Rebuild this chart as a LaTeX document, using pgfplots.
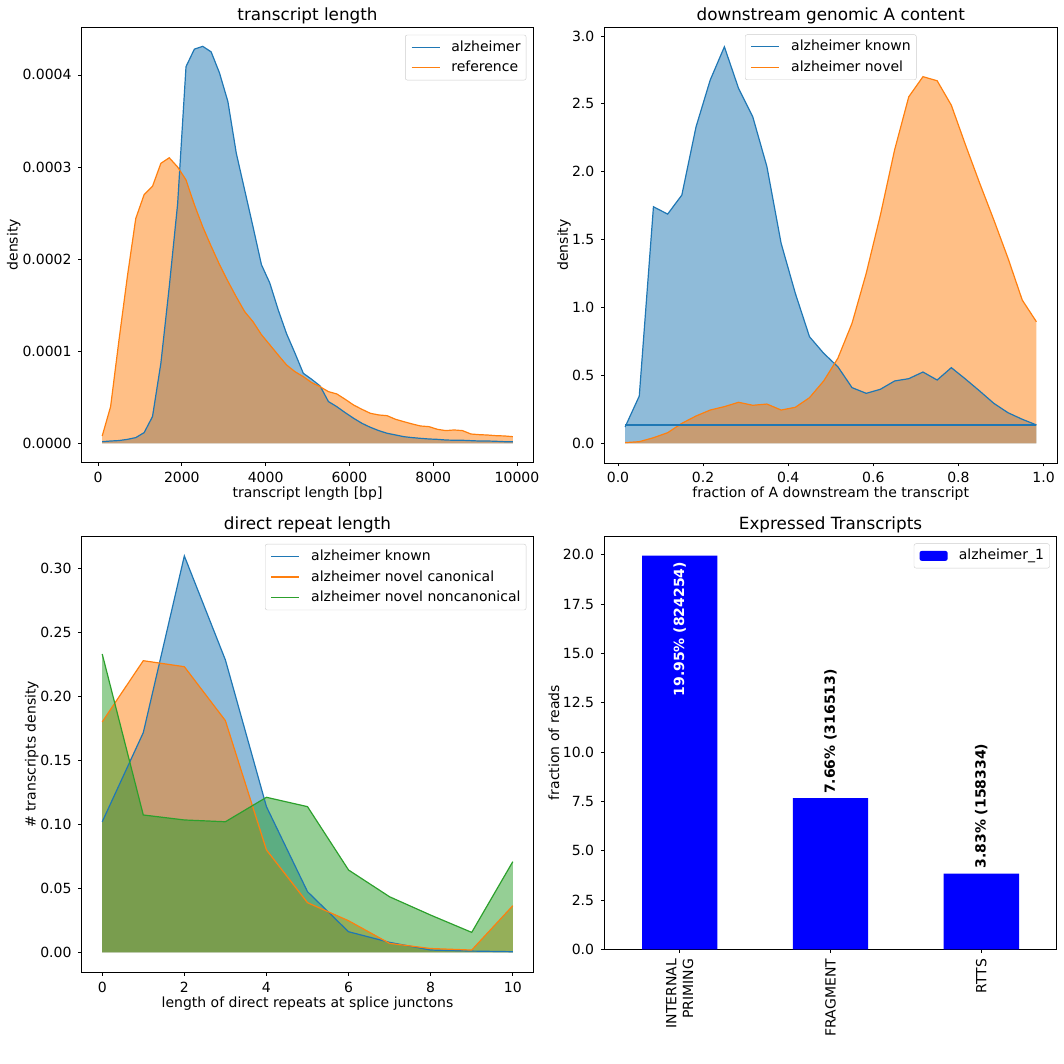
\documentclass[border=0pt]{standalone}
\usepackage{fontspec}
\setmainfont{DejaVu Sans}
\usepackage{pgfplots}
\usepackage{pgfplotstable}
\pgfplotsset{compat=1.18}
\definecolor{c0}{HTML}{1F77B4}
\definecolor{c1}{HTML}{FF7F0E}
\definecolor{c2}{HTML}{2CA02C}

\pgfplotstableread{
x a r
100 1.8e-6 8e-6
300 2.5e-6 3.98e-5
500 3.0e-6 1.12e-4
700 4.3e-6 1.81e-4
900 6.2e-6 2.44e-4
1100 1.16e-5 2.70e-4
1300 2.9e-5 2.79e-4
1500 8.7e-5 3.04e-4
1700 1.70e-4 3.10e-4
1900 2.60e-4 3.00e-4
2100 4.09e-4 2.86e-4
2300 4.28e-4 2.59e-4
2500 4.31e-4 2.35e-4
2700 4.25e-4 2.14e-4
2900 4.02e-4 1.94e-4
3100 3.71e-4 1.76e-4
3300 3.15e-4 1.59e-4
3500 2.75e-4 1.43e-4
3700 2.35e-4 1.32e-4
3900 1.94e-4 1.18e-4
4100 1.74e-4 1.07e-4
4300 1.45e-4 9.59e-5
4500 1.19e-4 8.51e-5
4700 9.8e-5 7.78e-5
4900 7.6e-5 7.24e-5
5100 6.95e-5 6.59e-5
5300 6.23e-5 6.15e-5
5500 4.53e-5 5.61e-5
5700 3.98e-5 5.36e-5
5900 3.33e-5 4.78e-5
6100 2.72e-5 4.16e-5
6300 2.17e-5 3.69e-5
6500 1.74e-5 3.26e-5
6700 1.38e-5 3.08e-5
6900 1.09e-5 3.00e-5
7100 9.1e-6 2.61e-5
7300 7.2e-6 2.35e-5
7500 6.2e-6 2.10e-5
7700 5.4e-6 1.88e-5
7900 4.7e-6 1.81e-5
8100 4.3e-6 1.52e-5
8300 3.6e-6 1.38e-5
8500 3.3e-6 1.45e-5
8700 3.3e-6 1.38e-5
8900 2.9e-6 1.01e-5
9100 2.5e-6 9.4e-6
9300 2.5e-6 9.0e-6
9500 2.2e-6 8.3e-6
9700 1.8e-6 8.0e-6
9900 1.8e-6 7.2e-6
}\tldata

\pgfplotstableread{
x k n
0.016667 0.120 0.005
0.050000 0.348 0.012
0.083333 1.742 0.041
0.116667 1.688 0.078
0.150000 1.828 0.147
0.183333 2.330 0.201
0.216667 2.675 0.245
0.250000 2.920 0.270
0.283333 2.614 0.302
0.316667 2.405 0.280
0.350000 2.037 0.289
0.383333 1.473 0.245
0.416667 1.105 0.265
0.450000 0.785 0.336
0.483333 0.663 0.459
0.516667 0.564 0.626
0.550000 0.410 0.884
0.583333 0.368 1.252
0.616667 0.398 1.681
0.650000 0.459 2.160
0.683333 0.476 2.552
0.716667 0.525 2.700
0.750000 0.466 2.670
0.783333 0.557 2.490
0.816667 0.473 2.197
0.850000 0.385 1.915
0.883333 0.294 1.644
0.916667 0.225 1.362
0.950000 0.177 1.055
0.983333 0.135 0.895
}\trdata

\pgfplotstableread{
x k c nc
0 0.1020 0.1800 0.2330
1 0.1716 0.2278 0.1073
2 0.3096 0.2231 0.1034
3 0.2284 0.1810 0.1020
4 0.1138 0.0800 0.1211
5 0.0474 0.0388 0.1138
6 0.0161 0.0247 0.0643
7 0.0078 0.0070 0.0434
8 0.0018 0.0030 0.0291
9 0.0010 0.0018 0.0156
10 0.0005 0.0364 0.0708
}\bldata

\pgfplotsset{
  mplaxis/.style={
    scale only axis, anchor=south west,
    axis line style={line width=0.8pt, black},
    tick align=outside, tick pos=left,
    major tick length=3.5pt,
    tick style={line width=0.8pt, black},
    /pgf/number format/assume math mode=true,
    tick label style={font=\fontsize{14}{16.8}\selectfont, inner sep=0pt},
    xticklabel shift=5.9pt, yticklabel shift=6.5pt,
    label style={font=\fontsize{14}{16.8}\selectfont},
    title style={font=\fontsize{16.8}{20}\selectfont, at={(0.5,1)}, anchor=base, yshift=0.5pt},
    scaled ticks=false,
    legend cell align=left,
    legend style={font=\fontsize{14}{16.8}\selectfont, draw=black!20, rounded corners=2pt,
      fill=white, inner xsep=5.6pt, inner ysep=5.2pt, row sep=6.7pt,
      nodes={inner sep=0pt, text height=11pt, text depth=3pt},
      /tikz/every odd column/.style={column sep=11.2pt}},
    legend image code/.code={\draw[#1] (0pt,0pt) -- (28pt,0pt);},
  }
}

\begin{document}
\begin{tikzpicture}
\path[use as bounding box] (0pt,0pt) rectangle (1064pt,1064pt);

% top left
\begin{axis}[mplaxis, at={(81.7pt,601.7pt)}, width=451.6pt, height=435pt,
  xmin=-390, xmax=10390, ymin=-0.0000206, ymax=0.0004517,
  xtick={0,2000,4000,6000,8000,10000},
  ytick={0,0.0001,0.0002,0.0003,0.0004},
  xticklabel style={/pgf/number format/1000 sep={}},
  yticklabel style={/pgf/number format/fixed, /pgf/number format/precision=4, /pgf/number format/fixed zerofill},
  title={transcript length}, xlabel={transcript length [bp]}, ylabel={density},
  xlabel style={at={(axis description cs:0.5,-0.0805)}, anchor=base},
  ylabel style={at={(axis description cs:-0.1506,0.5)}, anchor=center},
  legend style={at={(1,1)}, anchor=north east, xshift=-7pt, yshift=-7.5pt}]
\addplot[fill=c0, fill opacity=0.5, draw=none, forget plot] table[x=x,y=a] {\tldata} \closedcycle;
\addplot[fill=c1, fill opacity=0.5, draw=none, forget plot] table[x=x,y=r] {\tldata} \closedcycle;
\addplot[draw=c0, line width=1.2pt] table[x=x,y=a] {\tldata};
\addplot[draw=c1, line width=1.2pt] table[x=x,y=r] {\tldata};
\legend{alzheimer, reference}
\end{axis}

% top right
\begin{axis}[mplaxis, at={(604.5pt,601pt)}, width=452.5pt, height=436pt,
  xmin=-0.0317, xmax=1.0317, ymin=-0.145, ymax=3.066,
  xtick={0,0.2,0.4,0.6,0.8,1.0},
  ytick={0,0.5,1.0,1.5,2.0,2.5,3.0},
  xticklabel style={/pgf/number format/fixed, /pgf/number format/precision=1, /pgf/number format/fixed zerofill},
  yticklabel style={/pgf/number format/fixed, /pgf/number format/precision=1, /pgf/number format/fixed zerofill},
  title={downstream genomic A content}, xlabel={fraction of A downstream the transcript}, ylabel={density},
  xlabel style={at={(axis description cs:0.5,-0.078)}, anchor=base},
  ylabel style={at={(axis description cs:-0.0895,0.5)}, anchor=center},
  legend style={at={(0.5,1)}, anchor=north, yshift=-7.5pt}]
\addplot[fill=c0, fill opacity=0.5, draw=none, forget plot] table[x=x,y=k] {\trdata} \closedcycle;
\addplot[fill=c1, fill opacity=0.5, draw=none, forget plot] table[x=x,y=n] {\trdata} \closedcycle;
\addplot[draw=c0, line width=1.2pt] table[x=x,y=k] {\trdata};
\addplot[draw=c1, line width=1.2pt] table[x=x,y=n] {\trdata};
\addplot[draw=c0, line width=1.2pt, forget plot] coordinates {(0.983333,0.135) (0.016667,0.135)};
\legend{alzheimer known, alzheimer novel}
\end{axis}

% bottom left
\begin{axis}[mplaxis, at={(81.7pt,91.8pt)}, width=451.6pt, height=435.7pt,
  xmin=-0.5, xmax=10.5, ymin=-0.0155, ymax=0.3248,
  xtick={0,2,4,6,8,10},
  ytick={0,0.05,0.10,0.15,0.20,0.25,0.30},
  yticklabel style={/pgf/number format/fixed, /pgf/number format/precision=2, /pgf/number format/fixed zerofill},
  title={direct repeat length}, xlabel={length of direct repeats at splice junctons}, ylabel={\# transcripts density},
  xlabel style={at={(axis description cs:0.5,-0.0805)}, anchor=base},
  ylabel style={at={(axis description cs:-0.1107,0.5)}, anchor=center},
  legend style={at={(1,1)}, anchor=north east, xshift=-7pt, yshift=-7.5pt}]
\addplot[fill=c0, fill opacity=0.5, draw=none, forget plot] table[x=x,y=k] {\bldata} \closedcycle;
\addplot[fill=c1, fill opacity=0.5, draw=none, forget plot] table[x=x,y=c] {\bldata} \closedcycle;
\addplot[fill=c2, fill opacity=0.5, draw=none, forget plot] table[x=x,y=nc] {\bldata} \closedcycle;
\addplot[draw=c0, line width=1.2pt] table[x=x,y=k] {\bldata};
\addplot[draw=c1, line width=1.2pt] table[x=x,y=c] {\bldata};
\addplot[draw=c2, line width=1.2pt] table[x=x,y=nc] {\bldata};
\legend{alzheimer known, alzheimer novel canonical, alzheimer novel noncanonical}
\end{axis}

% bottom right
\begin{axis}[mplaxis, at={(604.3pt,114.7pt)}, width=452.4pt, height=413.3pt,
  xmin=-0.5, xmax=2.5, ymin=0, ymax=20.95,
  xtick={0,1,2}, xticklabels={{INTERNAL\\PRIMING},FRAGMENT,RTTS},
  xticklabel style={rotate=90, anchor=east, align=right},
  ytick={0,2.5,5,7.5,10,12.5,15,17.5,20},
  yticklabel style={/pgf/number format/fixed, /pgf/number format/precision=1, /pgf/number format/fixed zerofill},
  title={Expressed Transcripts}, ylabel={fraction of reads},
  ylabel style={at={(axis description cs:-0.1112,0.5)}, anchor=center},
  legend style={at={(1,1)}, anchor=north east, xshift=-7pt, yshift=-7.5pt},
  legend image code/.code={\fill[blue] (0pt,-4.9pt) rectangle (28pt,4.9pt);}]
\addplot[ybar, bar width=0.5, fill=blue, draw=none] coordinates {(0,19.95) (1,7.66) (2,3.83)};
\legend{alzheimer\_1}
\node[rotate=90, anchor=east, inner sep=0pt, text=white, font=\bfseries\fontsize{14}{16.8}\selectfont] at ([yshift=-6pt]axis cs:0,19.95) {19.95\% (824254)};
\node[rotate=90, anchor=west, inner sep=0pt, text=black, font=\bfseries\fontsize{14}{16.8}\selectfont] at ([yshift=4pt]axis cs:1,7.66) {7.66\% (316513)};
\node[rotate=90, anchor=west, inner sep=0pt, text=black, font=\bfseries\fontsize{14}{16.8}\selectfont] at ([yshift=5pt]axis cs:2,3.83) {3.83\% (158334)};
\end{axis}
\end{tikzpicture}
\end{document}
